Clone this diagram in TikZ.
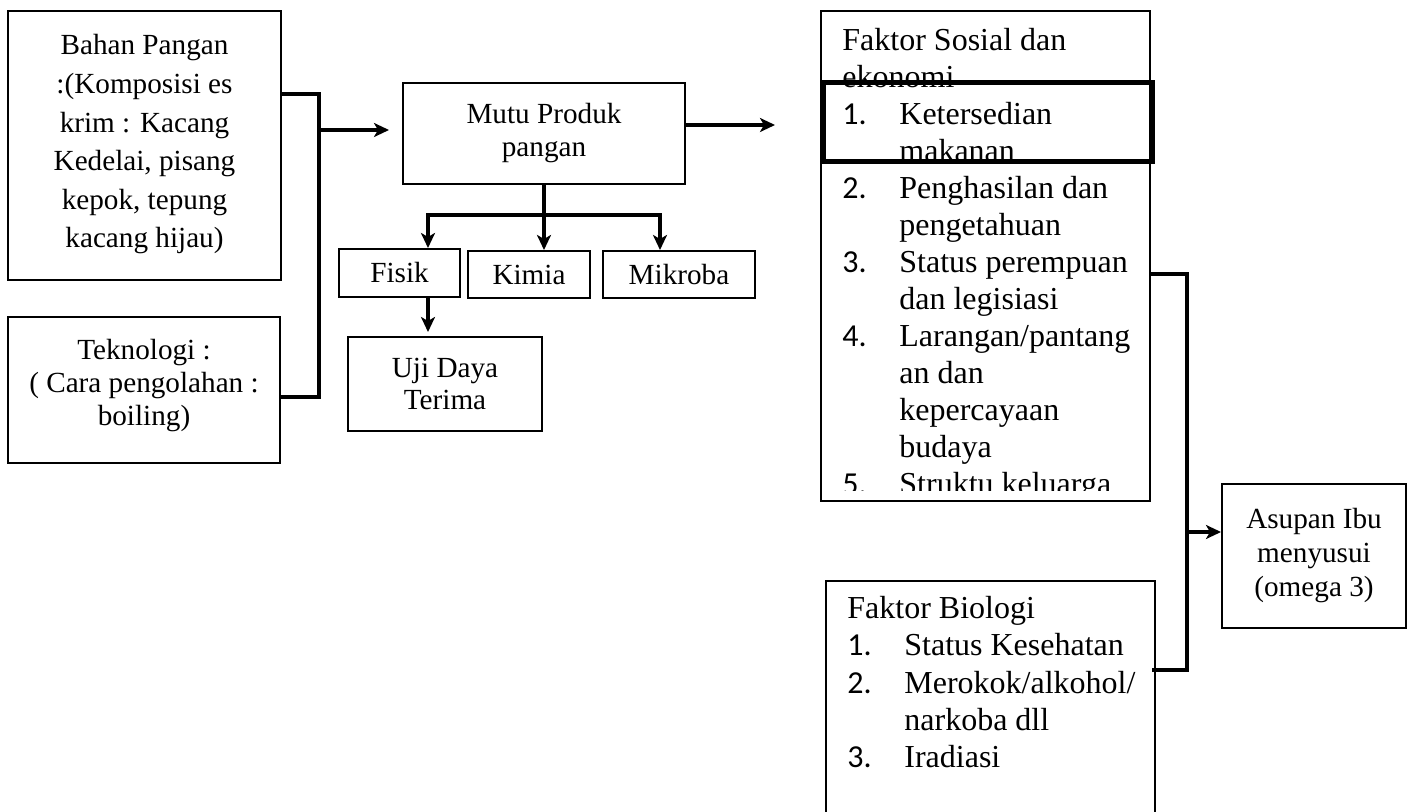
\documentclass[tikz,border=0pt]{standalone}
\usepackage{fontspec}
\setmainfont{Liberation Serif}
\newfontfamily\numfont{Carlito}
\usetikzlibrary{arrows.meta}
\newcommand\itm[1]{\makebox[28.5pt][l]{\numfont #1}}

\begin{document}
\begin{tikzpicture}[x=0.5pt,y=-0.5pt,
  box/.style={draw, line width=1pt, inner sep=0pt, align=center, font=\fontsize{14.6}{16.5}\selectfont},
  conn/.style={line width=2.2pt},
  arr/.style={line width=2.2pt, -{Stealth[length=7.5pt,width=7pt,inset=2pt]}},
  biarr/.style={line width=2.2pt, {Stealth[length=7.5pt,width=7pt,inset=2pt]}-{Stealth[length=7.5pt,width=7pt,inset=2pt]}},
  listtext/.style={anchor=north west, inner sep=0pt, align=left}]
\useasboundingbox (0,0) rectangle (1408,812);
% Define the nodes
\node[box, minimum width=136.5pt, minimum height=134.5pt, font=\fontsize{14.6}{19.3}\selectfont] (bahan) at (144.5,145.5) {Bahan Pangan\\:(Komposisi es\\krim : Kacang\\Kedelai, pisang\\kepok, tepung\\kacang hijau)\\[-15pt]\mbox{}};
\node[box, minimum width=136pt, minimum height=73pt] (tekno) at (144,390) {Teknologi :\\( Cara pengolahan :\\boiling)\\[-9pt]\mbox{}};
\node[box, minimum width=141pt, minimum height=50.5pt] (mutu) at (544,133.5) {Mutu Produk\\pangan};
\node[box, minimum width=60.5pt, minimum height=24pt] (fisik) at (399.5,273) {Fisik};
\node[box, minimum width=61pt, minimum height=23.5pt] (kimia) at (529,274.5) {Kimia};
\node[box, minimum width=76pt, minimum height=23.5pt] (mikroba) at (679,274.5) {Mikroba};
\node[box, minimum width=97pt, minimum height=47pt, font=\fontsize{14.6}{16}\selectfont] (uji) at (445,384) {Uji Daya\\Terima};
\node[box, minimum width=92pt, minimum height=72pt, font=\fontsize{14.6}{17}\selectfont] (asupan) at (1314,556) {Asupan Ibu\\menyusui\\(omega 3)};
\node[box, minimum width=164.5pt, minimum height=245pt] (sosial) at (985.5,256) {};
\node[box, minimum width=164.5pt, minimum height=129.5pt] (biologi) at (990.5,710.5) {};
% list texts
\begin{scope}
\clip (821,11) rectangle (1150,490);
\node[listtext, font=\fontsize{16}{18.5}\selectfont] (sosialtxt) at (842,28) {Faktor Sosial dan\\ekonomi\\\itm{1.}Ketersedian\\\hspace*{28.5pt}makanan\\\itm{2.}Penghasilan dan\\\hspace*{28.5pt}pengetahuan\\\itm{3.}Status perempuan\\\hspace*{28.5pt}dan legisiasi\\\itm{4.}Larangan/pantang\\\hspace*{28.5pt}an dan\\\hspace*{28.5pt}kepercayaan\\\hspace*{28.5pt}budaya\\\itm{5.}Struktu keluarga};
\end{scope}
\node[draw, line width=2.5pt, inner sep=0pt, minimum width=164.5pt, minimum height=39.5pt] (sorot) at (987.5,122.5) {};
\node[listtext, font=\fontsize{16}{18.6}\selectfont] (biologitxt) at (847,596) {Faktor Biologi\\\itm{1.}Status Kesehatan\\\itm{2.}Merokok/alkohol/\\\hspace*{28.5pt}narkoba dll\\\itm{3.}Iradiasi};
% Draw the paths
\coordinate (kiri) at (319,94);
\coordinate (kiribawah) at (319,397);
\draw[conn] (kiri -| bahan.east) -- (kiri) -- (kiribawah) -- (kiribawah -| tekno.east);
\draw[arr] (kiri |- 0,130) -- ([xshift=-6.5pt]mutu.west |- 0,130);
\coordinate (keluar) at (775,125);
\draw[arr] (keluar -| mutu.east) -- (keluar);
\coordinate (cabkiri) at (428,215);
\coordinate (cabkanan) at (660,215);
\draw[conn] (mutu.south) -- (mutu.south |- cabkiri);
\draw[biarr] (cabkiri |- fisik.north) -- (cabkiri) -- (cabkanan) -- (cabkanan |- mikroba.north);
\draw[arr] (mutu.south |- cabkiri) -- (mutu.south |- kimia.north);
\draw[arr] (cabkiri |- fisik.south) -- ([yshift=2pt]cabkiri |- uji.north);
\coordinate (kanan) at (1187,274);
\coordinate (kananbawah) at (1187,670);
\coordinate (kepanah) at (1187,532);
\draw[conn] (kanan -| sosial.east) -- (kanan) -- (kananbawah) -- ([xshift=-2pt]kananbawah -| biologi.east);
\draw[arr] (kepanah) -- (kepanah -| asupan.west);
\end{tikzpicture}
\end{document}
